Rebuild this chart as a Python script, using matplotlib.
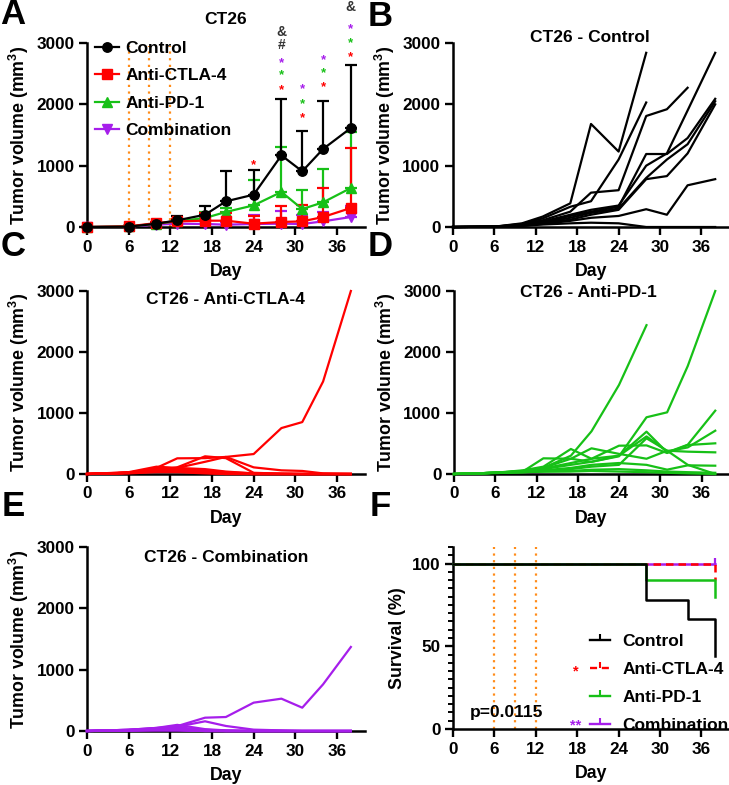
import matplotlib
matplotlib.use('Agg')
import matplotlib.pyplot as plt
import numpy as np
from matplotlib.lines import Line2D
from matplotlib.ticker import MultipleLocator

plt.rcParams['font.family'] = ['Liberation Sans', 'DejaVu Sans']
plt.rcParams['font.weight'] = 'bold'
plt.rcParams['axes.labelweight'] = 'bold'
plt.rcParams['mathtext.fontset'] = 'custom'
plt.rcParams['mathtext.bf'] = 'Liberation Sans:bold'
plt.rcParams['mathtext.rm'] = 'Liberation Sans:bold'
plt.rcParams['mathtext.default'] = 'bf'

# ---------------- data ----------------
days = [0, 6, 10, 13, 17, 20, 24, 28, 31, 34, 38]
treatment_days = [6, 9, 12]
groups = ['Control', 'Anti-CTLA-4', 'Anti-PD-1', 'Combination']

# Panel A: group mean and SD
ctrl_mean = [0, 5, 54, 109, 200, 418, 527, 1168, 908, 1272, 1614]
ctrl_sd = [0, 5, 16, 76, 137, 490, 397, 919, 662, 777, 1022]
ctla_mean = [0, 10, 65, 92, 103, 103, 54, 82, 92, 163, 310]
ctla_sd = [0, 5, 20, 40, 125, 125, 120, 255, 272, 473, 978]
pd1_mean = [0, 10, 54, 92, 147, 245, 353, 571, 293, 402, 636]
pd1_sd = [0, 5, 15, 40, 100, 65, 420, 733, 305, 544, 920]
combo_mean = [0, 8, 38, 54, 49, 38, 49, 54, 49, 92, 163]
combo_sd = [0, 5, 15, 30, 60, 40, 150, 200, 150, 150, 174]

# significance symbols in panel A: (day, height, symbol, group)
sig_day = [24, 28, 28, 28, 28, 28, 31, 31, 31, 34, 34, 34, 38, 38, 38, 38]
sig_height = [1080, 2304, 2538, 2745, 2973, 3179, 1848, 2080, 2310, 2348, 2576, 2782, 2837, 3065, 3288, 3587]
sig_symbol = ['*', '*', '*', '*', '#', '&', '*', '*', '*', '*', '*', '*', '*', '*', '*', '&']
sig_group = ['ctla', 'ctla', 'pd1', 'combo', 'none', 'none', 'ctla', 'pd1', 'combo',
             'ctla', 'pd1', 'combo', 'ctla', 'pd1', 'combo', 'none']

# Panels B-E: individual mice (series end when the mouse died)
ctrl_mice = [
    [0, 5, 60, 170, 386, 1680, 1230, 2840],
    [0, 5, 50, 140, 330, 420, 1100, 2030],
    [0, 5, 40, 110, 250, 560, 600, 1810, 1920, 2270],
    [0, 5, 30, 90, 200, 280, 350, 1000, 1200, 1900, 2840],
    [0, 5, 30, 80, 180, 250, 330, 1190, 1190, 1450, 2090],
    [0, 5, 30, 70, 150, 230, 300, 800, 1100, 1350, 2050],
    [0, 5, 20, 60, 120, 200, 280, 780, 830, 1200, 2000],
    [0, 5, 20, 50, 100, 150, 180, 290, 200, 680, 780],
    [0, 5, 20, 40, 60, 70, 60, 0, 0, 0, 0],
]
ctla_mice = [
    [0, 20, 60, 100, 200, 280, 327, 753, 851, 1516, 3000],
    [0, 20, 100, 257, 260, 280, 109, 60, 50, 10, 0],
    [0, 20, 60, 110, 290, 260, 20, 5, 0, 0, 0],
    [0, 30, 120, 100, 80, 40, 10, 0, 0, 0, 0],
    [0, 25, 80, 90, 60, 30, 10, 5, 0, 0, 0],
    [0, 20, 60, 80, 50, 20, 0, 0, 0, 0, 0],
    [0, 15, 50, 60, 40, 10, 0, 0, 0, 0, 0],
    [0, 20, 40, 50, 30, 10, 0, 0, 0, 0, 0],
    [0, 20, 50, 40, 20, 0, 0, 0, 0, 0, 0],
    [0, 10, 30, 30, 10, 0, 0, 0, 0, 0, 0],
]
pd1_mice = [
    [0, 20, 50, 100, 300, 700, 1460, 2440],
    [0, 20, 40, 80, 150, 200, 290, 930, 1011, 1770, 3000],
    [0, 20, 50, 90, 180, 250, 300, 694, 355, 480, 1038],
    [0, 20, 40, 257, 250, 200, 300, 616, 371, 436, 710],
    [0, 20, 60, 120, 410, 250, 464, 469, 344, 475, 503],
    [0, 20, 40, 100, 250, 421, 330, 250, 382, 366, 355],
    [0, 20, 40, 60, 100, 150, 180, 150, 71, 142, 136],
    [0, 20, 30, 50, 80, 120, 150, 585, 382, 150, 0],
    [0, 20, 30, 40, 50, 70, 80, 60, 40, 30, 20],
    [0, 15, 30, 40, 40, 50, 40, 30, 20, 10, 0],
]
combo_mice = [
    [0, 20, 50, 80, 217, 228, 462, 527, 380, 761, 1370],
    [0, 20, 40, 70, 158, 82, 22, 10, 0, 0, 0],
    [0, 20, 50, 100, 30, 10, 0, 0, 0, 0, 0],
    [0, 15, 40, 60, 20, 5, 0, 0, 0, 0, 0],
    [0, 15, 30, 40, 10, 0, 0, 0, 0, 0, 0],
    [0, 10, 30, 30, 10, 0, 0, 0, 0, 0, 0],
    [0, 10, 20, 20, 5, 0, 0, 0, 0, 0, 0],
    [0, 10, 20, 20, 0, 0, 0, 0, 0, 0, 0],
    [0, 10, 10, 10, 0, 0, 0, 0, 0, 0, 0],
    [0, 5, 10, 10, 0, 0, 0, 0, 0, 0, 0],
]

# Panel F: Kaplan-Meier steps
surv_ctrl_t = [0, 28, 34, 38]
surv_ctrl_p = [100, 77.8, 66.7, 44.4]
surv_ctla_t = [0, 38]
surv_ctla_p = [100, 90]
surv_pd1_t = [0, 28, 38]
surv_pd1_p = [100, 90, 80]
surv_combo_t = [0, 38]
surv_combo_p = [100, 100]
surv_sig = ['', '*', '', '**']
p_text = 'p=0.0115'

# ---------------- style ----------------
BLACK = '#000000'
RED = '#FF0000'
GREEN = '#17C017'
PURPLE = '#A61EEB'
ORANGE = '#FF8C1A'
DARK = '#333333'
col = {'ctrl': BLACK, 'ctla': RED, 'pd1': GREEN, 'combo': PURPLE, 'none': DARK}

FS = 12.5
W, H = 729, 785
fig = plt.figure(figsize=(W/100, H/100), dpi=100)


def style(ax, ylim, yticks, ylabel):
    for s in ['top', 'right']:
        ax.spines[s].set_visible(False)
    for s in ['left', 'bottom']:
        ax.spines[s].set_linewidth(1.8)
        ax.spines[s].set_zorder(1)
    ax.set_xlim(0, 40)
    ax.set_ylim(*ylim)
    ax.set_xticks(range(0, 37, 6))
    ax.set_yticks(yticks)
    ax.tick_params(direction='out', length=6, width=1.7, labelsize=12.3, pad=3)
    for lab in ax.get_xticklabels() + ax.get_yticklabels():
        lab.set_fontweight('bold')
    ax.set_xlabel('Day', fontsize=FS + 0.3, fontweight='bold', labelpad=6)
    ax.set_ylabel(ylabel, fontsize=FS + 0.3, fontweight='bold', labelpad=4)


YLAB = 'Tumor volume (mm$^3$)'

# ---- Panel A ----
axA = fig.add_axes([87/W, 1-227/H, 0.381, 184/H])
style(axA, (0, 3000), [0, 1000, 2000, 3000], YLAB)
axA.vlines(treatment_days, 0, 2950, colors=ORANGE, linestyles=(0, (1, 2)), lw=1.6, zorder=1)
series = [
    ('combo', combo_mean, combo_sd, 'v', 'Combination'),
    ('pd1', pd1_mean, pd1_sd, '^', 'Anti-PD-1'),
    ('ctla', ctla_mean, ctla_sd, 's', 'Anti-CTLA-4'),
    ('ctrl', ctrl_mean, ctrl_sd, 'o', 'Control'),
]
handles = {}
for key, m, sd, mk, lab in series:
    m = np.array(m, float)
    sd = np.array(sd, float)
    axA.errorbar(days, m, yerr=[np.zeros_like(sd), sd], fmt='none', ecolor=col[key],
                 elinewidth=1.6, capsize=4, capthick=1.6, clip_on=False, zorder=3)
    ln, = axA.plot(days, m, color=col[key], lw=1.6, marker=mk, markersize=6.8,
                   clip_on=False, zorder=4)
    handles[lab] = ln
for d, h, s, g in zip(sig_day, sig_height, sig_symbol, sig_group):
    fs = 9.5 if s == '*' else 10
    dy = -70 if s == '*' else 0
    axA.text(d, h + dy, s, color=col[g], fontsize=fs, fontweight='bold',
             ha='center', va='center', clip_on=False)
axA.text(0.5, 1.125, 'CT26', transform=axA.transAxes, ha='center', va='center',
         fontsize=FS, fontweight='bold')
legA = axA.legend([handles[g] for g in groups], groups, loc='upper left',
                  bbox_to_anchor=(0.03, 1.01), frameon=False, fontsize=FS,
                  handlelength=1.35, handletextpad=0.4, labelspacing=0.69, borderpad=0,
                  borderaxespad=0)
for t in legA.get_texts():
    t.set_fontweight('bold')


def mice_panel(rect, mice, color, title, tx, ty):
    ax = fig.add_axes(rect)
    style(ax, (0, 3000), [0, 1000, 2000, 3000], YLAB)
    for m in mice:
        ax.plot(days[:len(m)], m, color=color, lw=1.6, clip_on=False, zorder=3)
    ax.text(tx, ty, title, transform=ax.transAxes, ha='center', va='center',
            fontsize=FS, fontweight='bold')
    return ax


axB = mice_panel([453/W, 1-227/H, 276/W, 184/H], ctrl_mice, BLACK,
                 'CT26 - Control', 0.497, 1.03)
axC = mice_panel([87/W, 1-474/H, 0.381, 183/H], ctla_mice, RED,
                 'CT26 - Anti-CTLA-4', 0.5, 0.955)
axD = mice_panel([454/W, 1-474/H, 275/W, 183/H], pd1_mice, GREEN,
                 'CT26 - Anti-PD-1', 0.49, 0.99)
axE = mice_panel([87/W, 1-731/H, 0.381, 184/H], combo_mice, PURPLE,
                 'CT26 - Combination', 0.5, 0.945)

# ---- Panel F ----
axF = fig.add_axes([453/W, 1-729/H, 276/W, 182/H])
style(axF, (0, 110), [0, 50, 100], 'Survival (%)')
axF.yaxis.set_minor_locator(MultipleLocator(5))
axF.tick_params(axis='y', which='minor', length=3.5, width=1.4)
axF.vlines(treatment_days, 0, 110, colors=ORANGE, linestyles=(0, (1, 2)), lw=1.6, zorder=1)
axF.step(surv_combo_t, surv_combo_p, where='post', color=PURPLE, lw=1.8, clip_on=False, zorder=3)
axF.plot([surv_combo_t[-1]], [surv_combo_p[-1]], marker=2, color=PURPLE, markersize=4,
         mew=1.6, clip_on=False, zorder=3)
axF.step(surv_ctla_t, surv_ctla_p, where='post', color=RED, lw=1.8, ls=(0, (3, 2)),
         clip_on=False, zorder=4)
axF.step(surv_pd1_t, surv_pd1_p, where='post', color=GREEN, lw=1.8, clip_on=False, zorder=5)
axF.step(surv_ctrl_t, surv_ctrl_p, where='post', color=BLACK, lw=1.8, clip_on=False, zorder=6)
axF.text(0.062, 0.088, p_text, transform=axF.transAxes, ha='left', va='center',
         fontsize=FS, fontweight='bold')
hF = [Line2D([], [], color=BLACK, lw=1.7, marker=2, markersize=4, mew=1.5),
      Line2D([], [], color=RED, lw=1.7, ls=(0, (3, 2)), marker=2, markersize=4, mew=1.5),
      Line2D([], [], color=GREEN, lw=1.7, marker=2, markersize=4, mew=1.5),
      Line2D([], [], color=PURPLE, lw=1.7, marker=2, markersize=4, mew=1.5)]
legF = axF.legend(hF, groups, loc='upper left', bbox_to_anchor=(0.497, 0.523),
                  frameon=False, fontsize=FS, handlelength=1.15, handletextpad=0.7,
                  labelspacing=0.74, borderpad=0, borderaxespad=0)
for t in legF.get_texts():
    t.set_fontweight('bold')
star_cols = [BLACK, RED, GREEN, PURPLE]
star_y = [639, 668, 695, 722]
for s, c, yy in zip(surv_sig, star_cols, star_y):
    if s:
        fig.text(576/W, 1-(yy + 3)/H, s, color=c, ha='center', va='center',
                 fontsize=10.5, fontweight='bold')

# panel letters
for L, x, y in [('A', 13, 15), ('B', 380, 17), ('C', 13, 247), ('D', 380, 247),
                ('E', 13, 507), ('F', 380, 507)]:
    fig.text(x/W, 1-y/H, L, ha='center', va='center', fontsize=25, fontweight='bold')

fig.savefig('out.png', dpi=100)
